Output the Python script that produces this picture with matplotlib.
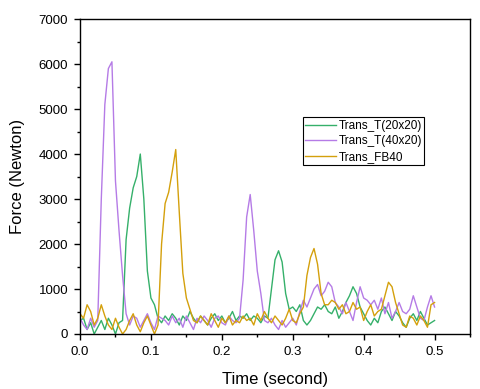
import numpy as np
import matplotlib
matplotlib.use("Agg")
import matplotlib.pyplot as plt
from matplotlib.ticker import MultipleLocator

plt.rcParams['font.family'] = ['Liberation Sans', 'DejaVu Sans']

time = np.round(np.arange(0, 101) * 0.005, 4)

trans_t_20x20 = [
    300, 350, 100, 250, 0, 150, 300, 100, 350, 200,
    0, 250, 300, 2100, 2800, 3250, 3500, 4000, 3000, 1400,
    800, 650, 350, 250, 400, 300, 450, 350, 200, 400,
    300, 500, 350, 250, 400, 300, 200, 350, 450, 300,
    400, 250, 350, 500, 300, 400, 350, 450, 300, 400,
    350, 250, 400, 350, 1000, 1650, 1850, 1600, 900, 550,
    600, 500, 650, 300, 200, 300, 450, 600, 550, 650,
    500, 450, 600, 350, 500, 700, 850, 1050, 900, 600,
    450, 300, 200, 350, 250, 500, 600, 450, 300, 500,
    400, 250, 150, 350, 450, 300, 500, 350, 200, 250,
    300]

trans_t_40x20 = [
    350, 200, 100, 350, 150, 300, 3000, 5100, 5900, 6050,
    3400, 2300, 1300, 450, 200, 400, 350, 150, 300, 450,
    250, 100, 400, 350, 300, 200, 400, 250, 350, 150,
    400, 250, 100, 350, 250, 400, 300, 150, 350, 400,
    250, 200, 400, 300, 250, 350, 1200, 2600, 3100, 2300,
    1400, 900, 300, 250, 350, 200, 100, 300, 150, 250,
    350, 200, 500, 750, 600, 800, 1000, 1100, 850, 950,
    1150, 1050, 700, 600, 450, 700, 500, 300, 700, 1050,
    800, 750, 650, 750, 550, 800, 450, 700, 350, 500,
    700, 500, 450, 550, 850, 600, 350, 300, 600, 850,
    600]

trans_fb40 = [
    450, 350, 650, 500, 200, 350, 650, 400, 200, 100,
    350, 150, 0, 100, 300, 450, 200, 50, 250, 400,
    200, 0, 200, 2000, 2900, 3150, 3600, 4100, 2700, 1350,
    800, 550, 300, 250, 400, 300, 200, 450, 300, 150,
    350, 250, 400, 200, 300, 250, 400, 300, 350, 200,
    450, 300, 500, 350, 250, 400, 300, 200, 350, 550,
    300, 250, 450, 600, 1300, 1700, 1900, 1550, 900, 650,
    650, 750, 700, 550, 650, 450, 500, 700, 550, 600,
    300, 500, 650, 400, 500, 550, 850, 1150, 1050, 700,
    450, 200, 150, 400, 350, 200, 400, 300, 150, 650,
    700]

labels = ["Trans_T(20x20)", "Trans_T(40x20)", "Trans_FB40"]
colors = ["#35b06a", "#b57be6", "#d4a00c"]

fig = plt.figure(figsize=(4.8, 3.89), dpi=100)
ax = fig.add_axes([0.1667, 0.1414, 0.8125, 0.8096])

for y, lab, c in zip([trans_t_20x20, trans_t_40x20, trans_fb40], labels, colors):
    ax.plot(time, y, color=c, lw=1.0, label=lab)

ax.set_xlim(0, 0.55)
ax.set_ylim(0, 7000)
ax.xaxis.set_minor_locator(MultipleLocator(0.05))
ax.yaxis.set_major_locator(MultipleLocator(1000))
ax.yaxis.set_minor_locator(MultipleLocator(500))
ax.set_xticks([0, 0.1, 0.2, 0.3, 0.4, 0.5])
ax.set_xticklabels(["0.0", "0.1", "0.2", "0.3", "0.4", "0.5"])
ax.tick_params(which='major', direction='out', length=4, width=1, labelsize=9.5, pad=4.5)
ax.tick_params(which='minor', direction='out', length=2.5, width=1)
for s in ax.spines.values():
    s.set_linewidth(1.0)

ax.set_xlabel("Time (second)", fontsize=12, labelpad=10)
ax.set_ylabel("Force (Newton)", fontsize=12, labelpad=10)

leg = ax.legend(loc='upper left', bbox_to_anchor=(0.572, 0.688), fontsize=8.5,
                frameon=True, fancybox=False, edgecolor='black', framealpha=1,
                borderpad=0.2, handlelength=2.6, handletextpad=0.2,
                labelspacing=0.3, borderaxespad=0)
leg.get_frame().set_linewidth(0.8)

fig.savefig("out.png", dpi=100)
